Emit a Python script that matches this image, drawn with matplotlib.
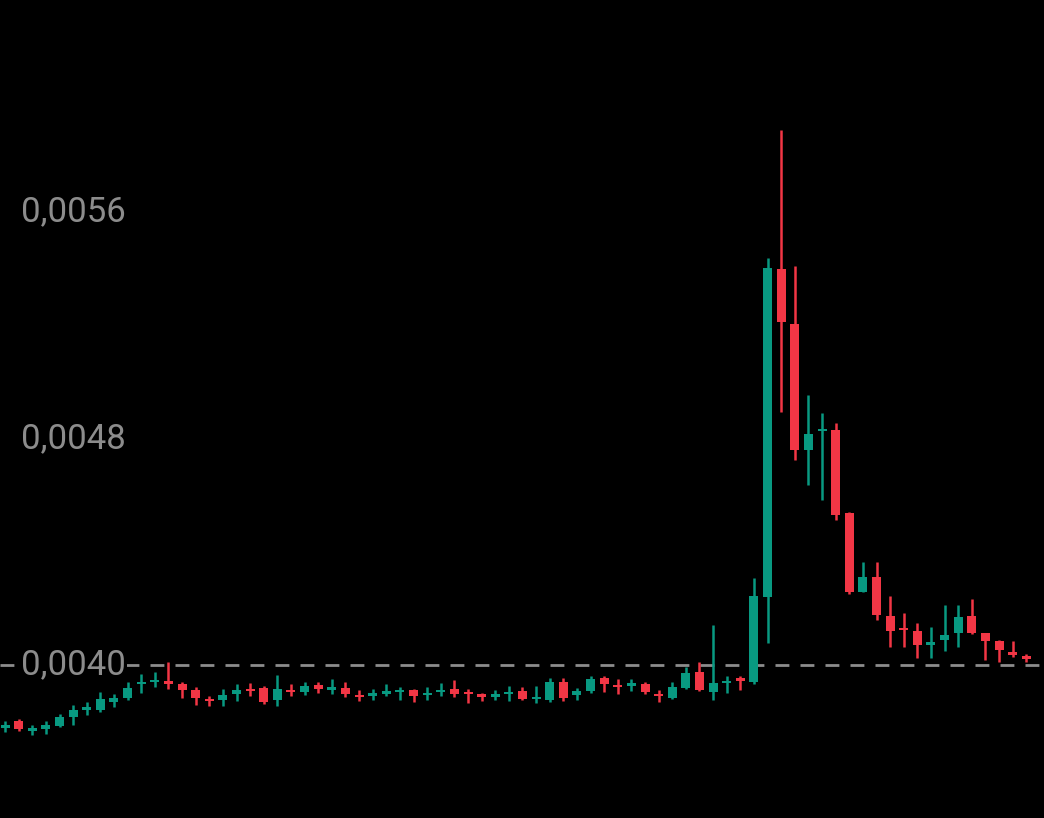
import numpy as np
import matplotlib.pyplot as plt
import matplotlib.transforms as mtransforms

# prices in units of 1e-6
opens = [3778, 3802, 3767, 3774, 3785, 3816, 3841, 3841, 3869, 3884, 3933, 3940, 3944, 3933, 3912, 3880,
         3876, 3898, 3915, 3919, 3876, 3912, 3905, 3929, 3912, 3919, 3894, 3891, 3898, 3905, 3912, 3894,
         3905, 3915, 3901, 3898, 3887, 3898, 3908, 3880, 3876, 3940, 3894, 3908, 3954, 3929, 3926, 3933,
         3898, 3884, 3919, 3975, 3905, 3936, 3954, 3940, 4240, 5398, 5204, 4759, 4826, 4830, 4537, 4258,
         4311, 4173, 4131, 4120, 4071, 4088, 4113, 4173, 4113, 4085, 4046, 4032]
closes = [3788, 3774, 3778, 3788, 3816, 3841, 3852, 3880, 3884, 3919, 3940, 3944, 3933, 3912, 3884, 3873,
          3894, 3912, 3908, 3869, 3915, 3905, 3926, 3915, 3922, 3898, 3887, 3901, 3908, 3912, 3891, 3901,
          3908, 3898, 3898, 3887, 3898, 3905, 3880, 3884, 3940, 3884, 3908, 3951, 3933, 3922, 3936, 3905,
          3891, 3922, 3972, 3912, 3936, 3944, 3944, 4244, 5401, 5211, 4759, 4815, 4833, 4530, 4258, 4311,
          4177, 4120, 4124, 4071, 4081, 4106, 4169, 4113, 4085, 4053, 4035, 4021]
highs = [3802, 3809, 3788, 3802, 3827, 3859, 3869, 3905, 3898, 3940, 3968, 3975, 4011, 3940, 3922, 3891,
         3915, 3933, 3936, 3926, 3965, 3933, 3940, 3940, 3951, 3940, 3912, 3915, 3933, 3922, 3915, 3922,
         3936, 3947, 3915, 3901, 3912, 3926, 3922, 3926, 3954, 3954, 3919, 3961, 3961, 3951, 3951, 3940,
         3912, 3940, 3993, 4011, 4141, 3961, 3961, 4307, 5437, 5889, 5408, 4953, 4890, 4854, 4540, 4364,
         4364, 4244, 4184, 4148, 4134, 4212, 4212, 4233, 4113, 4088, 4085, 4039]
lows = [3763, 3767, 3753, 3756, 3781, 3788, 3823, 3834, 3852, 3876, 3901, 3922, 3915, 3884, 3859, 3855,
        3855, 3873, 3891, 3862, 3855, 3891, 3894, 3901, 3898, 3887, 3873, 3876, 3891, 3876, 3869, 3876,
        3891, 3887, 3866, 3873, 3876, 3873, 3876, 3866, 3869, 3873, 3876, 3901, 3905, 3898, 3908, 3898,
        3869, 3880, 3915, 3908, 3876, 3901, 3912, 3933, 4078, 4893, 4724, 4635, 4582, 4512, 4251, 4258,
        4159, 4064, 4064, 4025, 4025, 4049, 4064, 4109, 4018, 4011, 4028, 4011]
tick_vals = [0.0040, 0.0048, 0.0056]
tick_labels = ["0,0040", "0,0048", "0,0056"]
last_price = 0.0040

GREEN = "#089981"
RED = "#f23645"

fig = plt.figure(figsize=(10.44, 8.18), dpi=100, facecolor="black")
ax = fig.add_axes([0, 0, 1, 1], facecolor="black")

o = np.array(opens) * 1e-6
c = np.array(closes) * 1e-6
h = np.array(highs) * 1e-6
l = np.array(lows) * 1e-6
x = np.arange(len(o))
col = [GREEN if cc >= oo else RED for oo, cc in zip(o, c)]

ax.axhline(last_price, color="#8c8c8c", lw=2, dashes=(5, 4), zorder=1)
ax.vlines(x, l, h, colors=col, lw=1.8, zorder=2)
bottom = np.minimum(o, c)
height = np.maximum(np.abs(c - o), 0.000006)
ax.bar(x, height, bottom=bottom, width=0.66, color=col, zorder=3)

trans = mtransforms.blended_transform_factory(ax.transAxes, ax.transData)
for v, s in zip(tick_vals, tick_labels):
    ax.text(0.02, v, s, transform=trans, color="#8c8c8c", fontsize=25,
            family="Roboto", va="center", ha="left", zorder=4,
            bbox=dict(facecolor="black", edgecolor="none", pad=1) if v == last_price else None)

ax.set_xlim(-0.37, 76.3)
ax.set_ylim(0.003460, 0.006347)
ax.axis("off")
fig.savefig("out.png", dpi=100, facecolor="black")
